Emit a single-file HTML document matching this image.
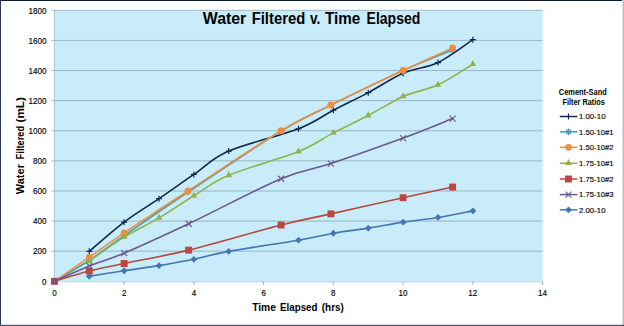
<!DOCTYPE html>
<html><head><meta charset="utf-8"><style>
html,body{margin:0;padding:0;background:#fff;}
svg{display:block;}
text{font-family:"Liberation Sans",sans-serif;}
</style></head><body>
<svg width="624" height="326" viewBox="0 0 624 326">
<rect x="0" y="0" width="624" height="326" fill="#ffffff"/>

<rect x="54.4" y="10.3" width="488.2" height="271.5" fill="#c8ecf9"/>
<line x1="51.4" y1="251.19" x2="542.6" y2="251.19" stroke="#8aaab6" stroke-width="0.8"/>
<line x1="51.4" y1="221.08" x2="542.6" y2="221.08" stroke="#8aaab6" stroke-width="0.8"/>
<line x1="51.4" y1="190.97" x2="542.6" y2="190.97" stroke="#8aaab6" stroke-width="0.8"/>
<line x1="51.4" y1="160.86" x2="542.6" y2="160.86" stroke="#8aaab6" stroke-width="0.8"/>
<line x1="51.4" y1="130.74" x2="542.6" y2="130.74" stroke="#8aaab6" stroke-width="0.8"/>
<line x1="51.4" y1="100.63" x2="542.6" y2="100.63" stroke="#8aaab6" stroke-width="0.8"/>
<line x1="51.4" y1="70.52" x2="542.6" y2="70.52" stroke="#8aaab6" stroke-width="0.8"/>
<line x1="51.4" y1="40.41" x2="542.6" y2="40.41" stroke="#8aaab6" stroke-width="0.8"/>
<line x1="51.4" y1="10.30" x2="542.6" y2="10.30" stroke="#8aaab6" stroke-width="0.8"/>
<line x1="54.4" y1="10.3" x2="54.4" y2="281.3" stroke="#a8c4d0" stroke-width="1"/>
<line x1="51.4" y1="281.8" x2="542.6" y2="281.8" stroke="#b8d8e2" stroke-width="1"/>
<line x1="54.40" y1="281.8" x2="54.40" y2="284.8" stroke="#a0a8b0" stroke-width="1"/>
<line x1="124.14" y1="281.8" x2="124.14" y2="284.8" stroke="#a0a8b0" stroke-width="1"/>
<line x1="193.89" y1="281.8" x2="193.89" y2="284.8" stroke="#a0a8b0" stroke-width="1"/>
<line x1="263.63" y1="281.8" x2="263.63" y2="284.8" stroke="#a0a8b0" stroke-width="1"/>
<line x1="333.37" y1="281.8" x2="333.37" y2="284.8" stroke="#a0a8b0" stroke-width="1"/>
<line x1="403.11" y1="281.8" x2="403.11" y2="284.8" stroke="#a0a8b0" stroke-width="1"/>
<line x1="472.86" y1="281.8" x2="472.86" y2="284.8" stroke="#a0a8b0" stroke-width="1"/>
<line x1="542.60" y1="281.8" x2="542.60" y2="284.8" stroke="#a0a8b0" stroke-width="1"/>
<text x="46.5" y="284.50" font-size="9" text-anchor="end" fill="#000" stroke="#000" stroke-width="0.15" textLength="4.5" lengthAdjust="spacingAndGlyphs">0</text>
<text x="46.5" y="254.39" font-size="9" text-anchor="end" fill="#000" stroke="#000" stroke-width="0.15" textLength="13.5" lengthAdjust="spacingAndGlyphs">200</text>
<text x="46.5" y="224.28" font-size="9" text-anchor="end" fill="#000" stroke="#000" stroke-width="0.15" textLength="13.5" lengthAdjust="spacingAndGlyphs">400</text>
<text x="46.5" y="194.17" font-size="9" text-anchor="end" fill="#000" stroke="#000" stroke-width="0.15" textLength="13.5" lengthAdjust="spacingAndGlyphs">600</text>
<text x="46.5" y="164.06" font-size="9" text-anchor="end" fill="#000" stroke="#000" stroke-width="0.15" textLength="13.5" lengthAdjust="spacingAndGlyphs">800</text>
<text x="46.5" y="133.94" font-size="9" text-anchor="end" fill="#000" stroke="#000" stroke-width="0.15" textLength="18.0" lengthAdjust="spacingAndGlyphs">1000</text>
<text x="46.5" y="103.83" font-size="9" text-anchor="end" fill="#000" stroke="#000" stroke-width="0.15" textLength="18.0" lengthAdjust="spacingAndGlyphs">1200</text>
<text x="46.5" y="73.72" font-size="9" text-anchor="end" fill="#000" stroke="#000" stroke-width="0.15" textLength="18.0" lengthAdjust="spacingAndGlyphs">1400</text>
<text x="46.5" y="43.61" font-size="9" text-anchor="end" fill="#000" stroke="#000" stroke-width="0.15" textLength="18.0" lengthAdjust="spacingAndGlyphs">1600</text>
<text x="46.5" y="13.50" font-size="9" text-anchor="end" fill="#000" stroke="#000" stroke-width="0.15" textLength="18.0" lengthAdjust="spacingAndGlyphs">1800</text>
<text x="54.40" y="296" font-size="9" text-anchor="middle" fill="#000" stroke="#000" stroke-width="0.15" textLength="4.5" lengthAdjust="spacingAndGlyphs">0</text>
<text x="124.14" y="296" font-size="9" text-anchor="middle" fill="#000" stroke="#000" stroke-width="0.15" textLength="4.5" lengthAdjust="spacingAndGlyphs">2</text>
<text x="193.89" y="296" font-size="9" text-anchor="middle" fill="#000" stroke="#000" stroke-width="0.15" textLength="4.5" lengthAdjust="spacingAndGlyphs">4</text>
<text x="263.63" y="296" font-size="9" text-anchor="middle" fill="#000" stroke="#000" stroke-width="0.15" textLength="4.5" lengthAdjust="spacingAndGlyphs">6</text>
<text x="333.37" y="296" font-size="9" text-anchor="middle" fill="#000" stroke="#000" stroke-width="0.15" textLength="4.5" lengthAdjust="spacingAndGlyphs">8</text>
<text x="403.11" y="296" font-size="9" text-anchor="middle" fill="#000" stroke="#000" stroke-width="0.15" textLength="9.0" lengthAdjust="spacingAndGlyphs">10</text>
<text x="472.86" y="296" font-size="9" text-anchor="middle" fill="#000" stroke="#000" stroke-width="0.15" textLength="9.0" lengthAdjust="spacingAndGlyphs">12</text>
<text x="542.60" y="296" font-size="9" text-anchor="middle" fill="#000" stroke="#000" stroke-width="0.15" textLength="9.0" lengthAdjust="spacingAndGlyphs">14</text>
<path d="M89.27,251.34 C95.08,246.47 112.52,230.91 124.14,222.13 C135.77,213.35 147.39,206.60 159.01,198.65 C170.64,190.69 182.26,182.33 193.89,174.41 C205.51,166.48 211.32,158.67 228.76,151.07 C246.19,143.47 281.06,135.59 298.50,128.79 C315.94,121.99 321.75,116.29 333.37,110.27 C345.00,104.25 356.62,98.83 368.24,92.65 C379.87,86.48 391.49,78.25 403.11,73.23 C414.74,68.21 426.36,68.14 437.99,62.54 C449.61,56.95 467.05,43.47 472.86,39.66" stroke="#10284e" stroke-width="1.6" fill="none" stroke-linejoin="round"/>
<path d="M86.27,251.34 h6 M89.27,248.34 v6" stroke="#10284e" stroke-width="1.2" fill="none"/>
<path d="M121.14,222.13 h6 M124.14,219.13 v6" stroke="#10284e" stroke-width="1.2" fill="none"/>
<path d="M156.01,198.65 h6 M159.01,195.65 v6" stroke="#10284e" stroke-width="1.2" fill="none"/>
<path d="M190.89,174.41 h6 M193.89,171.41 v6" stroke="#10284e" stroke-width="1.2" fill="none"/>
<path d="M225.76,151.07 h6 M228.76,148.07 v6" stroke="#10284e" stroke-width="1.2" fill="none"/>
<path d="M295.50,128.79 h6 M298.50,125.79 v6" stroke="#10284e" stroke-width="1.2" fill="none"/>
<path d="M330.37,110.27 h6 M333.37,107.27 v6" stroke="#10284e" stroke-width="1.2" fill="none"/>
<path d="M365.24,92.65 h6 M368.24,89.65 v6" stroke="#10284e" stroke-width="1.2" fill="none"/>
<path d="M400.11,73.23 h6 M403.11,70.23 v6" stroke="#10284e" stroke-width="1.2" fill="none"/>
<path d="M434.99,62.54 h6 M437.99,59.54 v6" stroke="#10284e" stroke-width="1.2" fill="none"/>
<path d="M469.86,39.66 h6 M472.86,36.66 v6" stroke="#10284e" stroke-width="1.2" fill="none"/>
<path d="M54.40,281.30 C60.21,277.81 77.65,267.98 89.27,260.37 C100.90,252.77 107.70,247.05 124.14,235.68 C140.59,224.31 161.80,209.61 187.96,192.17 C214.11,174.73 257.24,145.55 281.06,131.05 C304.89,116.54 310.59,115.26 330.93,105.15 C351.27,95.04 382.83,79.58 403.11,70.37 C423.40,61.16 444.38,53.31 452.63,49.90" stroke="#3c9cb6" stroke-width="1.6" fill="none" stroke-linejoin="round"/>
<path d="M51.20,281.30 h6.4 M54.40,278.10 v6.4 M52.10,279.00 l4.6,4.6 M56.70,279.00 l-4.6,4.6" stroke="#3c9cb6" stroke-width="1.1" fill="none"/>
<path d="M86.07,260.37 h6.4 M89.27,257.17 v6.4 M86.97,258.07 l4.6,4.6 M91.57,258.07 l-4.6,4.6" stroke="#3c9cb6" stroke-width="1.1" fill="none"/>
<path d="M120.94,235.68 h6.4 M124.14,232.48 v6.4 M121.84,233.38 l4.6,4.6 M126.44,233.38 l-4.6,4.6" stroke="#3c9cb6" stroke-width="1.1" fill="none"/>
<path d="M184.76,192.17 h6.4 M187.96,188.97 v6.4 M185.66,189.87 l4.6,4.6 M190.26,189.87 l-4.6,4.6" stroke="#3c9cb6" stroke-width="1.1" fill="none"/>
<path d="M277.86,131.05 h6.4 M281.06,127.85 v6.4 M278.76,128.75 l4.6,4.6 M283.36,128.75 l-4.6,4.6" stroke="#3c9cb6" stroke-width="1.1" fill="none"/>
<path d="M327.73,105.15 h6.4 M330.93,101.95 v6.4 M328.63,102.85 l4.6,4.6 M333.23,102.85 l-4.6,4.6" stroke="#3c9cb6" stroke-width="1.1" fill="none"/>
<path d="M399.91,70.37 h6.4 M403.11,67.17 v6.4 M400.81,68.07 l4.6,4.6 M405.41,68.07 l-4.6,4.6" stroke="#3c9cb6" stroke-width="1.1" fill="none"/>
<path d="M449.43,49.90 h6.4 M452.63,46.70 v6.4 M450.33,47.60 l4.6,4.6 M454.93,47.60 l-4.6,4.6" stroke="#3c9cb6" stroke-width="1.1" fill="none"/>
<path d="M54.40,281.30 C60.21,277.29 77.65,265.29 89.27,257.21 C100.90,249.13 107.70,243.86 124.14,232.82 C140.59,221.78 161.80,207.98 187.96,190.97 C214.11,173.95 257.24,145.10 281.06,130.74 C304.89,116.39 310.59,114.89 330.93,104.85 C351.27,94.81 382.83,80.01 403.11,70.52 C423.40,61.04 444.38,51.70 452.63,47.94" stroke="#f28d3e" stroke-width="1.6" fill="none" stroke-linejoin="round"/>
<circle cx="54.40" cy="281.30" r="3.4" fill="#f28d3e"/>
<circle cx="89.27" cy="257.21" r="3.4" fill="#f28d3e"/>
<circle cx="124.14" cy="232.82" r="3.4" fill="#f28d3e"/>
<circle cx="187.96" cy="190.97" r="3.4" fill="#f28d3e"/>
<circle cx="281.06" cy="130.74" r="3.4" fill="#f28d3e"/>
<circle cx="330.93" cy="104.85" r="3.4" fill="#f28d3e"/>
<circle cx="403.11" cy="70.52" r="3.4" fill="#f28d3e"/>
<circle cx="452.63" cy="47.94" r="3.4" fill="#f28d3e"/>
<path d="M89.27,260.98 C95.08,257.01 112.52,244.36 124.14,237.19 C135.77,230.01 147.39,224.82 159.01,217.92 C170.64,211.02 182.26,202.89 193.89,195.78 C205.51,188.68 211.32,182.69 228.76,175.31 C246.19,167.93 281.06,158.60 298.50,151.52 C315.94,144.44 321.75,138.85 333.37,132.85 C345.00,126.86 356.62,121.61 368.24,115.54 C379.87,109.47 391.49,101.54 403.11,96.42 C414.74,91.30 426.36,90.19 437.99,84.83 C449.61,79.46 467.05,67.64 472.86,64.20" stroke="#90b24e" stroke-width="1.6" fill="none" stroke-linejoin="round"/>
<path d="M89.27,256.78 L92.57,262.88 L85.97,262.88 Z" fill="#90b24e"/>
<path d="M124.14,232.99 L127.44,239.09 L120.84,239.09 Z" fill="#90b24e"/>
<path d="M159.01,213.72 L162.31,219.82 L155.71,219.82 Z" fill="#90b24e"/>
<path d="M193.89,191.58 L197.19,197.68 L190.59,197.68 Z" fill="#90b24e"/>
<path d="M228.76,171.11 L232.06,177.21 L225.46,177.21 Z" fill="#90b24e"/>
<path d="M298.50,147.32 L301.80,153.42 L295.20,153.42 Z" fill="#90b24e"/>
<path d="M333.37,128.65 L336.67,134.75 L330.07,134.75 Z" fill="#90b24e"/>
<path d="M368.24,111.34 L371.54,117.44 L364.94,117.44 Z" fill="#90b24e"/>
<path d="M403.11,92.22 L406.41,98.32 L399.81,98.32 Z" fill="#90b24e"/>
<path d="M437.99,80.63 L441.29,86.73 L434.69,86.73 Z" fill="#90b24e"/>
<path d="M472.86,60.00 L476.16,66.10 L469.56,66.10 Z" fill="#90b24e"/>
<path d="M54.40,281.30 C60.21,279.59 77.65,274.02 89.27,271.06 C100.90,268.10 107.58,267.02 124.14,263.53 C140.71,260.05 162.50,256.56 188.66,250.14 C214.81,243.71 257.35,231.04 281.06,224.99 C304.78,218.94 310.59,218.39 330.93,213.85 C351.27,209.31 382.83,202.21 403.11,197.74 C423.40,193.28 444.38,188.83 452.63,187.05" stroke="#b9463f" stroke-width="1.6" fill="none" stroke-linejoin="round"/>
<rect x="50.95" y="277.85" width="6.9" height="6.9" fill="#b9463f"/>
<rect x="85.82" y="267.61" width="6.9" height="6.9" fill="#b9463f"/>
<rect x="120.69" y="260.08" width="6.9" height="6.9" fill="#b9463f"/>
<rect x="185.21" y="246.69" width="6.9" height="6.9" fill="#b9463f"/>
<rect x="277.61" y="221.54" width="6.9" height="6.9" fill="#b9463f"/>
<rect x="327.48" y="210.40" width="6.9" height="6.9" fill="#b9463f"/>
<rect x="399.66" y="194.29" width="6.9" height="6.9" fill="#b9463f"/>
<rect x="449.18" y="183.60" width="6.9" height="6.9" fill="#b9463f"/>
<path d="M54.40,281.30 C60.21,278.74 77.65,270.64 89.27,265.94 C100.90,261.25 107.58,260.17 124.14,253.15 C140.71,246.12 162.50,236.18 188.66,223.79 C214.81,211.39 257.35,188.81 281.06,178.77 C304.78,168.73 310.59,170.34 330.93,163.57 C351.27,156.79 382.83,145.62 403.11,138.12 C423.40,130.62 444.38,121.81 452.63,118.55" stroke="#6c5890" stroke-width="1.6" fill="none" stroke-linejoin="round"/>
<path d="M51.40,278.30 l6,6 M57.40,278.30 l-6,6" stroke="#6c5890" stroke-width="1.2" fill="none"/>
<path d="M86.27,262.94 l6,6 M92.27,262.94 l-6,6" stroke="#6c5890" stroke-width="1.2" fill="none"/>
<path d="M121.14,250.15 l6,6 M127.14,250.15 l-6,6" stroke="#6c5890" stroke-width="1.2" fill="none"/>
<path d="M185.66,220.79 l6,6 M191.66,220.79 l-6,6" stroke="#6c5890" stroke-width="1.2" fill="none"/>
<path d="M278.06,175.77 l6,6 M284.06,175.77 l-6,6" stroke="#6c5890" stroke-width="1.2" fill="none"/>
<path d="M327.93,160.57 l6,6 M333.93,160.57 l-6,6" stroke="#6c5890" stroke-width="1.2" fill="none"/>
<path d="M400.11,135.12 l6,6 M406.11,135.12 l-6,6" stroke="#6c5890" stroke-width="1.2" fill="none"/>
<path d="M449.63,115.55 l6,6 M455.63,115.55 l-6,6" stroke="#6c5890" stroke-width="1.2" fill="none"/>
<path d="M89.27,276.33 C95.08,275.40 112.52,272.54 124.14,270.76 C135.77,268.98 147.39,267.55 159.01,265.64 C170.64,263.74 182.26,261.70 193.89,259.32 C205.51,256.94 211.32,254.53 228.76,251.34 C246.19,248.15 281.06,243.21 298.50,240.20 C315.94,237.19 321.75,235.28 333.37,233.27 C345.00,231.27 356.62,230.01 368.24,228.15 C379.87,226.30 391.49,223.91 403.11,222.13 C414.74,220.35 426.36,219.35 437.99,217.46 C449.61,215.58 467.05,211.94 472.86,210.84" stroke="#4575b2" stroke-width="1.6" fill="none" stroke-linejoin="round"/>
<path d="M89.27,272.93 L92.67,276.33 L89.27,279.73 L85.87,276.33 Z" fill="#4575b2"/>
<path d="M124.14,267.36 L127.54,270.76 L124.14,274.16 L120.74,270.76 Z" fill="#4575b2"/>
<path d="M159.01,262.24 L162.41,265.64 L159.01,269.04 L155.61,265.64 Z" fill="#4575b2"/>
<path d="M193.89,255.92 L197.29,259.32 L193.89,262.72 L190.49,259.32 Z" fill="#4575b2"/>
<path d="M228.76,247.94 L232.16,251.34 L228.76,254.74 L225.36,251.34 Z" fill="#4575b2"/>
<path d="M298.50,236.80 L301.90,240.20 L298.50,243.60 L295.10,240.20 Z" fill="#4575b2"/>
<path d="M333.37,229.87 L336.77,233.27 L333.37,236.67 L329.97,233.27 Z" fill="#4575b2"/>
<path d="M368.24,224.75 L371.64,228.15 L368.24,231.55 L364.84,228.15 Z" fill="#4575b2"/>
<path d="M403.11,218.73 L406.51,222.13 L403.11,225.53 L399.71,222.13 Z" fill="#4575b2"/>
<path d="M437.99,214.06 L441.39,217.46 L437.99,220.86 L434.59,217.46 Z" fill="#4575b2"/>
<path d="M472.86,207.44 L476.26,210.84 L472.86,214.24 L469.46,210.84 Z" fill="#4575b2"/>
<text x="202.80" y="23.90" font-size="16.00" font-weight="bold" fill="#000" textLength="43.50" lengthAdjust="spacingAndGlyphs" >Water</text>
<text x="251.70" y="23.90" font-size="16.00" font-weight="bold" fill="#000" textLength="53.50" lengthAdjust="spacingAndGlyphs" >Filtered</text>
<text x="310.00" y="23.90" font-size="16.00" font-weight="bold" fill="#000" textLength="10.40" lengthAdjust="spacingAndGlyphs" >v.</text>
<text x="325.00" y="23.90" font-size="16.00" font-weight="bold" fill="#000" textLength="35.30" lengthAdjust="spacingAndGlyphs" >Time</text>
<text x="366.60" y="23.90" font-size="16.00" font-weight="bold" fill="#000" textLength="53.70" lengthAdjust="spacingAndGlyphs" >Elapsed</text>
<text x="252.20" y="311.20" font-size="10.30" font-weight="bold" fill="#000" textLength="23.70" lengthAdjust="spacingAndGlyphs" >Time</text>
<text x="280.10" y="311.20" font-size="10.30" font-weight="bold" fill="#000" textLength="37.40" lengthAdjust="spacingAndGlyphs" >Elapsed</text>
<text x="321.80" y="311.20" font-size="10.30" font-weight="bold" fill="#000" textLength="22.00" lengthAdjust="spacingAndGlyphs" >(hrs)</text>
<g transform="translate(23.6,0) rotate(-90)"><text x="-194.20" y="0.00" font-size="10.20" font-weight="bold" fill="#000" textLength="30.10" lengthAdjust="spacingAndGlyphs" >Water</text><text x="-159.40" y="0.00" font-size="10.20" font-weight="bold" fill="#000" textLength="33.60" lengthAdjust="spacingAndGlyphs" >Filtered</text><text x="-122.50" y="0.00" font-size="10.20" font-weight="bold" fill="#000" textLength="25.30" lengthAdjust="spacingAndGlyphs" >(mL)</text></g>
<text x="582.8" y="94.7" font-size="8.2" font-weight="bold" text-anchor="middle" fill="#000" textLength="47.9" lengthAdjust="spacingAndGlyphs">Cement-Sand</text>
<text x="583.7" y="104.9" font-size="8.2" font-weight="bold" text-anchor="middle" fill="#000" textLength="42.4" lengthAdjust="spacingAndGlyphs">Filter Ratios</text>
<line x1="559.8" y1="116.50" x2="577.4" y2="116.50" stroke="#10284e" stroke-width="1.5"/>
<path d="M565.50,116.50 h6 M568.50,113.50 v6" stroke="#10284e" stroke-width="1.2" fill="none"/>
<text x="579" y="119.20" font-size="8" fill="#000" stroke="#000" stroke-width="0.15" textLength="26.5" lengthAdjust="spacingAndGlyphs">1.00-10</text>
<line x1="559.8" y1="131.80" x2="577.4" y2="131.80" stroke="#3c9cb6" stroke-width="1.5"/>
<path d="M565.30,131.80 h6.4 M568.50,128.60 v6.4 M566.20,129.50 l4.6,4.6 M570.80,129.50 l-4.6,4.6" stroke="#3c9cb6" stroke-width="1.1" fill="none"/>
<text x="579" y="134.50" font-size="8" fill="#000" stroke="#000" stroke-width="0.15" textLength="34.5" lengthAdjust="spacingAndGlyphs">1.50-10#1</text>
<line x1="559.8" y1="147.30" x2="577.4" y2="147.30" stroke="#f28d3e" stroke-width="1.5"/>
<circle cx="568.50" cy="147.30" r="3.4" fill="#f28d3e"/>
<text x="579" y="150.00" font-size="8" fill="#000" stroke="#000" stroke-width="0.15" textLength="34.5" lengthAdjust="spacingAndGlyphs">1.50-10#2</text>
<line x1="559.8" y1="163.20" x2="577.4" y2="163.20" stroke="#90b24e" stroke-width="1.5"/>
<path d="M568.50,159.00 L571.80,165.10 L565.20,165.10 Z" fill="#90b24e"/>
<text x="579" y="165.90" font-size="8" fill="#000" stroke="#000" stroke-width="0.15" textLength="34.5" lengthAdjust="spacingAndGlyphs">1.75-10#1</text>
<line x1="559.8" y1="179.00" x2="577.4" y2="179.00" stroke="#b9463f" stroke-width="1.5"/>
<rect x="565.05" y="175.55" width="6.9" height="6.9" fill="#b9463f"/>
<text x="579" y="181.70" font-size="8" fill="#000" stroke="#000" stroke-width="0.15" textLength="34.5" lengthAdjust="spacingAndGlyphs">1.75-10#2</text>
<line x1="559.8" y1="194.60" x2="577.4" y2="194.60" stroke="#6c5890" stroke-width="1.5"/>
<path d="M565.50,191.60 l6,6 M571.50,191.60 l-6,6" stroke="#6c5890" stroke-width="1.2" fill="none"/>
<text x="579" y="197.30" font-size="8" fill="#000" stroke="#000" stroke-width="0.15" textLength="34.5" lengthAdjust="spacingAndGlyphs">1.75-10#3</text>
<line x1="559.8" y1="209.80" x2="577.4" y2="209.80" stroke="#4575b2" stroke-width="1.5"/>
<path d="M568.50,206.40 L571.90,209.80 L568.50,213.20 L565.10,209.80 Z" fill="#4575b2"/>
<text x="579" y="212.50" font-size="8" fill="#000" stroke="#000" stroke-width="0.15" textLength="26.5" lengthAdjust="spacingAndGlyphs">2.00-10</text>
<rect x="0" y="0" width="624" height="1" fill="#0c1a34"/>
<rect x="0" y="0" width="1" height="326" fill="#2a3856"/>
<rect x="622" y="0" width="1" height="326" fill="#dfe3ea"/>
<rect x="623" y="0" width="1" height="326" fill="#b4bcc8"/>
<rect x="0" y="324.8" width="624" height="1.2" fill="#4a5566"/>
</svg></body></html>
